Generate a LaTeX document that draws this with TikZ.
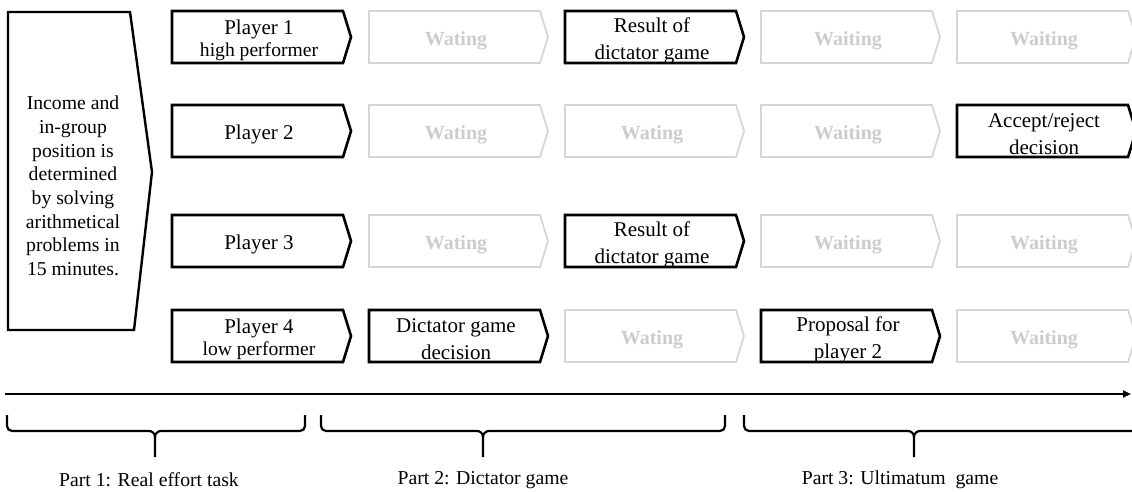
\documentclass[tikz,border=0pt]{standalone}
\usepackage{fontspec}
\setmainfont{Liberation Serif}
\usetikzlibrary{arrows.meta}
\definecolor{lightgr}{HTML}{D6D6D6}
\definecolor{txtgr}{HTML}{CCCCCC}
\tikzset{
  blk/.style={draw=black,line width=2.6pt,line join=miter},
  gry/.style={draw=lightgr,line width=1.8pt,line join=miter},
  blktxt/.style={inner sep=0pt,align=center,text=black,font=\fontsize{21}{27}\selectfont},
  grytxt/.style={inner sep=0pt,align=center,text=txtgr,font=\fontsize{20}{24}\selectfont\bfseries},
  partlbl/.style={inner sep=0pt,font=\fontsize{19.7}{24}\selectfont},
  bracepath/.style={draw=black,line width=2.2pt},
}
\newcommand\chevbox[5]{%
  \draw[#4] (#2,#3) -- ++(171,0) -- ++(8,26) -- ++(-8,26) -- ++(-171,0) -- cycle;
  \node[#4txt] (#1) at (#2+87,#3+29.5) {#5};
}
\newcommand\partbrace[4]{% name, x1, xm, x2
  \draw[bracepath] (#2,415) -- (#2,426) to[out=-90,in=180] (#2+5,431) -- (#3-6,431)
     to[out=0,in=90] (#3,437) -- (#3,457);
  \draw[bracepath] (#3,437) to[out=90,in=180] (#3+6,431) -- (#4-5,431)
     to[out=0,in=-90] (#4,426) -- (#4,415);
  \coordinate (#1) at (#3,457);
}
\begin{document}
\begin{tikzpicture}[x=1pt,y=-1pt]
\useasboundingbox (0,0) rectangle (1132,491);
% left block
\draw[black,line width=2.4pt,line join=miter] (8,12) -- (130,12) -- (152,172) -- (134,330) -- (8,330) -- cycle;
\node[inner sep=0pt,align=center,font=\fontsize{19.7}{23.7}\selectfont] (intro) at (73,186)
  {Income and\\in-group\\position is\\determined\\by solving\\arithmetical\\problems in\\15 minutes.};
% row 1
\chevbox{p1}{172}{11}{blk}{Player 1\\[-5pt]{\fontsize{19.6}{22}\selectfont high performer}}
\chevbox{r1c2}{369}{11}{gry}{Wating}
\chevbox{r1c3}{565}{11}{blk}{Result of\\dictator game}
\chevbox{r1c4}{761}{11}{gry}{Waiting}
\chevbox{r1c5}{957}{11}{gry}{Waiting}
% row 2
\chevbox{p2}{172}{105}{blk}{Player 2}
\chevbox{r2c2}{369}{105}{gry}{Wating}
\chevbox{r2c3}{565}{105}{gry}{Wating}
\chevbox{r2c4}{761}{105}{gry}{Waiting}
\chevbox{r2c5}{957}{105}{blk}{Accept/reject\\decision}
% row 3
\chevbox{p3}{172}{215}{blk}{Player 3}
\chevbox{r3c2}{369}{215}{gry}{Wating}
\chevbox{r3c3}{565}{215}{blk}{Result of\\dictator game}
\chevbox{r3c4}{761}{215}{gry}{Waiting}
\chevbox{r3c5}{957}{215}{gry}{Waiting}
% row 4
\chevbox{p4}{172}{310}{blk}{Player 4\\[-5pt]{\fontsize{19.6}{22}\selectfont low performer}}
\chevbox{r4c2}{369}{310}{blk}{Dictator game\\decision}
\chevbox{r4c3}{565}{310}{gry}{Wating}
\chevbox{r4c4}{761}{310}{blk}{Proposal for\\player 2}
\chevbox{r4c5}{957}{310}{gry}{Waiting}
% timeline
\coordinate (tl0) at (5,394);
\coordinate (tl1) at (1131,394);
\draw[line width=2pt,-{Triangle[length=8pt,width=7pt]}] (tl0) -- (tl1);
% braces
\partbrace{b1}{7}{155}{305}
\partbrace{b2}{321}{483}{725}
\partbrace{b3}{744}{914}{1140}
\node[partlbl] (l1) at (149,480) {Part 1: Real effort task};
\node[partlbl] (l2) at (483,480) {Part 2: Dictator game};
\node[partlbl] (l3) at (900,480) {Part 3: Ultimatum\ \ game};
\end{tikzpicture}
\end{document}
